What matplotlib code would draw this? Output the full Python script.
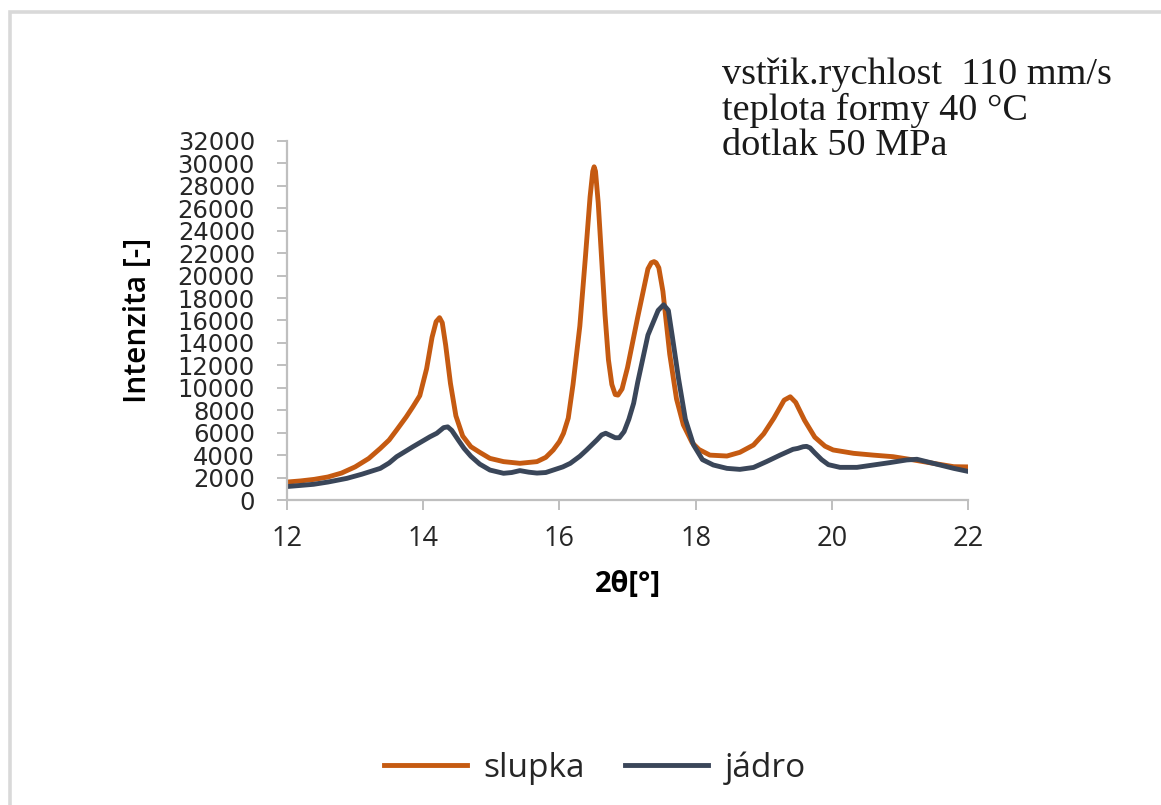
import matplotlib
matplotlib.use("Agg")
from matplotlib import pyplot as plt
from matplotlib.patches import Rectangle

# 2theta positions and intensities, outer layer (slupka)
slupka_x = [12.00, 12.20, 12.40, 12.60, 12.80, 13.00, 13.20, 13.37, 13.50, 13.61,
            13.75, 13.85, 13.95, 14.05, 14.13, 14.19, 14.24, 14.28, 14.33, 14.40,
            14.48, 14.58, 14.70, 14.83, 14.98, 15.18, 15.42, 15.67, 15.80, 15.91,
            16.00, 16.06, 16.13, 16.20, 16.30, 16.38, 16.45, 16.49, 16.51, 16.53,
            16.57, 16.62, 16.67, 16.72, 16.77, 16.82, 16.86, 16.92, 17.00, 17.15,
            17.30, 17.35, 17.39, 17.42, 17.46, 17.52, 17.62, 17.72, 17.82, 17.95,
            18.05, 18.21, 18.46, 18.65, 18.85, 19.00, 19.15, 19.30, 19.39, 19.47,
            19.60, 19.75, 19.90, 20.02, 20.32, 20.61, 20.90, 21.20, 21.49, 21.79,
            22.00]
slupka_y = [1600, 1700, 1840, 2050, 2400, 2950, 3700, 4600, 5350, 6240,
            7400, 8320, 9300, 11700, 14500, 15900, 16250, 15800, 13800, 10400,
            7500, 5700, 4750, 4250, 3710, 3420, 3270, 3420, 3800, 4460,
            5200, 5940, 7300, 10300, 15500, 21500, 27000, 29300, 29700, 29300,
            26500, 21500, 16500, 12500, 10300, 9400, 9350, 9900, 11800, 16300,
            20600, 21150, 21250, 21150, 20700, 18600, 13000, 9000, 6700, 5100,
            4500, 4000, 3920, 4250, 4900, 5900, 7300, 8900, 9200, 8700,
            7100, 5600, 4800, 4460, 4160, 4000, 3860, 3570, 3270, 2970,
            2950]

# core layer (jadro)
jadro_x = [12.00, 12.20, 12.39, 12.60, 12.88, 13.10, 13.37, 13.50, 13.61, 13.85,
           14.10, 14.20, 14.30, 14.36, 14.42, 14.52, 14.60, 14.70, 14.83, 14.98,
           15.18, 15.30, 15.42, 15.55, 15.67, 15.80, 15.91, 16.05, 16.16, 16.30,
           16.40, 16.55, 16.62, 16.68, 16.75, 16.82, 16.88, 16.95, 17.02, 17.09,
           17.15, 17.30, 17.45, 17.53, 17.60, 17.66, 17.75, 17.85, 17.97, 18.10,
           18.26, 18.46, 18.65, 18.85, 19.04, 19.24, 19.43, 19.50, 19.58, 19.63,
           19.68, 19.75, 19.85, 19.95, 20.12, 20.37, 20.61, 20.85, 21.10, 21.25,
           21.49, 21.79, 22.00]
jadro_y = [1200, 1300, 1400, 1600, 1930, 2300, 2820, 3300, 3860, 4750,
           5640, 5950, 6450, 6520, 6200, 5300, 4600, 3900, 3200, 2670,
           2380, 2450, 2620, 2480, 2400, 2450, 2670, 2950, 3270, 3900,
           4460, 5350, 5800, 5950, 5750, 5550, 5550, 6100, 7200, 8620,
           10500, 14700, 16900, 17400, 16900, 14500, 10800, 7200, 4900, 3600,
           3120, 2820, 2730, 2900, 3420, 4000, 4520, 4600, 4750, 4780,
           4650, 4200, 3600, 3150, 2910, 2910, 3120, 3330, 3570, 3630,
           3270, 2820, 2550]

x_ticks = [12, 14, 16, 18, 20, 22]
y_ticks = list(range(0, 32001, 2000))

info_lines = ["vstřik.rychlost  110 mm/s", "teplota formy 40 °C", "dotlak 50 MPa"]

ORANGE = "#C55A11"
NAVY = "#3A4659"
AXIS_GRAY = "#BFBFBF"

fig = plt.figure(figsize=(11.61, 8.05), dpi=100)
ax = fig.add_axes([287 / 1161, 1 - 500 / 805, (968 - 287) / 1161, (500 - 141) / 805])

ax.plot(slupka_x, slupka_y, color=ORANGE, lw=3.5, solid_joinstyle="round", label="slupka")
ax.plot(jadro_x, jadro_y, color=NAVY, lw=3.5, solid_joinstyle="round", label="jádro")

ax.set_xlim(12, 22)
ax.set_ylim(0, 32000)
ax.set_xticks(x_ticks)
ax.set_yticks(y_ticks)
ax.set_yticklabels([str(v) for v in y_ticks], family="DejaVu Sans", fontsize=17.5, color="#262626")
ax.set_xticklabels([str(v) for v in x_ticks], family="Open Sans", fontsize=19.5, color="#262626")

for side in ["top", "right"]:
    ax.spines[side].set_visible(False)
for side in ["left", "bottom"]:
    ax.spines[side].set_color(AXIS_GRAY)
    ax.spines[side].set_linewidth(1.6)
ax.tick_params(axis="y", direction="out", length=7, width=1.4, color=AXIS_GRAY, pad=16)
ax.tick_params(axis="x", direction="out", length=7, width=1.4, color=AXIS_GRAY, pad=11)

ax.set_xlabel("2θ[°]", family="Open Sans", fontweight="bold", fontsize=21, color="#000000", labelpad=12)
ax.set_ylabel("Intenzita [-]", family="Open Sans", fontweight="semibold", fontsize=21.5, color="#000000", labelpad=18)

# process parameters, top right
for i, line in enumerate(info_lines):
    fig.text(722 / 1161, 1 - (75 + 35.5 * i) / 805, line, family="Liberation Serif",
             fontsize=27.5, va="center", ha="left", color="#1a1a1a")

fig.legend(loc="center", bbox_to_anchor=(595 / 1161, 1 - 768 / 805), ncol=2, frameon=False,
           prop={"family": "Open Sans", "size": 24}, handlelength=2.5, handletextpad=0.5,
           columnspacing=1.2, labelcolor="#262626")

# chart-area frame, runs off the right and bottom edges
fig.patches.append(Rectangle((10 / 1161, -0.2), 1.3, 1 - 12 / 805 + 0.2, transform=fig.transFigure,
                             fill=False, edgecolor="#D9D9D9", lw=2.6))

fig.savefig("out.png", dpi=100)
